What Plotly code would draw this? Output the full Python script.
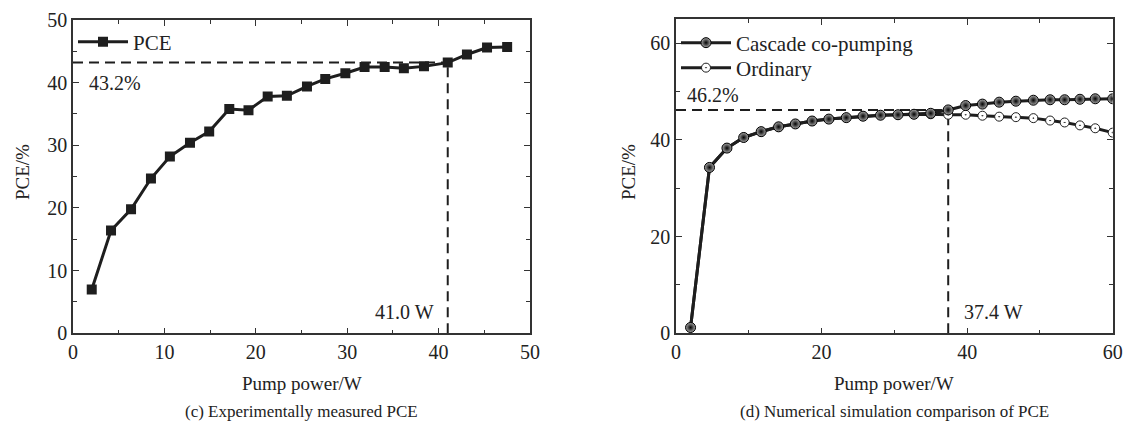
import plotly.graph_objects as go

# ---- Data: (c) experimentally measured PCE ----
exp_power = [2.05, 4.16, 6.35, 8.53, 10.6, 12.8, 14.9, 17.1, 19.2, 21.3, 23.4,
             25.6, 27.6, 29.8, 31.9, 34.1, 36.2, 38.4, 41.0, 43.1, 45.3, 47.5]
exp_pce = [7.0, 16.4, 19.8, 24.7, 28.2, 30.4, 32.2, 35.8, 35.6, 37.8, 37.9,
           39.4, 40.6, 41.5, 42.5, 42.5, 42.3, 42.6, 43.2, 44.5, 45.6, 45.7]
exp_mark_power = 41.0
exp_mark_pce = 43.2

# ---- Data: (d) numerical simulation ----
sim_power = [2.0, 4.6, 7.0, 9.3, 11.7, 14.1, 16.4, 18.7, 21.0, 23.4, 25.7, 28.1,
             30.5, 32.7, 35.0, 37.4, 39.8, 42.1, 44.4, 46.7, 49.1, 51.4, 53.4,
             55.5, 57.6, 60.0]
cascade_pce = [1.2, 34.3, 38.3, 40.5, 41.7, 42.7, 43.3, 43.9, 44.3, 44.6, 44.9, 45.1,
               45.2, 45.3, 45.5, 46.2, 47.1, 47.4, 47.8, 48.0, 48.2, 48.3, 48.3,
               48.4, 48.5, 48.5]
ordinary_pce = [1.2, 34.3, 38.3, 40.5, 41.7, 42.7, 43.3, 43.9, 44.3, 44.6, 44.9, 45.1,
                45.2, 45.3, 45.3, 45.2, 45.2, 45.0, 44.8, 44.7, 44.5, 44.0, 43.6,
                43.0, 42.4, 41.5]
sim_mark_power = 37.4
sim_mark_pce = 46.2

FONT = "Liberation Serif, Times New Roman, Times, serif"
INK = "#1e1e1e"
TXT = "#222"
PAGE_OFF = 8            # default body margin of the html page
W, H = 1146 - 2 * PAGE_OFF, 429 - 2 * PAGE_OFF

def px(xp):
    return (xp - PAGE_OFF) / W

def py(yp):
    return (H - (yp - PAGE_OFF)) / H

fig = go.Figure()

dash_line = dict(color=INK, width=2, dash="10px,6px")

# left panel
fig.add_trace(go.Scatter(x=[0, exp_mark_power], y=[exp_mark_pce, exp_mark_pce], mode="lines",
                         line=dash_line, showlegend=False, xaxis="x", yaxis="y"))
fig.add_trace(go.Scatter(x=[exp_mark_power, exp_mark_power], y=[0, exp_mark_pce], mode="lines",
                         line=dash_line, showlegend=False, xaxis="x", yaxis="y"))
fig.add_trace(go.Scatter(x=exp_power, y=exp_pce, mode="lines+markers", name="PCE",
                         line=dict(color=INK, width=3),
                         marker=dict(symbol="square", size=10, color=INK),
                         xaxis="x", yaxis="y", legend="legend"))

# right panel
fig.add_trace(go.Scatter(x=[0, sim_mark_power], y=[sim_mark_pce, sim_mark_pce], mode="lines",
                         line=dash_line, showlegend=False, xaxis="x2", yaxis="y2"))
fig.add_trace(go.Scatter(x=[sim_mark_power, sim_mark_power], y=[0, sim_mark_pce], mode="lines",
                         line=dash_line, showlegend=False, xaxis="x2", yaxis="y2"))
fig.add_trace(go.Scatter(x=sim_power, y=ordinary_pce, mode="lines+markers", name="Ordinary",
                         line=dict(color=INK, width=3),
                         marker=dict(symbol="circle-dot", size=9, color="white",
                                     line=dict(color=INK, width=1)),
                         xaxis="x2", yaxis="y2", legend="legend3"))
fig.add_trace(go.Scatter(x=sim_power, y=cascade_pce, mode="lines+markers", name="Cascade co-pumping",
                         line=dict(color=INK, width=3),
                         marker=dict(symbol="circle", size=10, color="#a8a8a8",
                                     gradient=dict(type="radial", color="#000000"),
                                     line=dict(color="#000", width=1)),
                         xaxis="x2", yaxis="y2", legend="legend2"))

axis_common = dict(showline=True, linecolor="#333", linewidth=1.5, mirror="ticks",
                   ticks="inside", ticklen=6, tickwidth=1.2, tickcolor="#333",
                   showgrid=False, zeroline=False, automargin=False,
                   tickfont=dict(family=FONT, size=20, color=TXT))

def minor(d):
    return dict(dtick=d, ticks="inside", ticklen=4, tickwidth=1.2, tickcolor="#333")

leg_common = dict(xanchor="left", yanchor="middle", bgcolor="rgba(0,0,0,0)",
                  itemwidth=50, borderwidth=0,
                  font=dict(family=FONT, size=21, color=TXT))

fig.update_layout(
    width=W, height=H,
    margin=dict(l=0, r=0, t=0, b=0),
    paper_bgcolor="white", plot_bgcolor="white",
    font=dict(family=FONT, color=TXT),
    xaxis=dict(domain=[px(73), px(530)], range=[0, 50], dtick=10, anchor="y",
               minor=minor(5), **axis_common),
    yaxis=dict(domain=[py(333.3), py(20)], range=[0, 50], dtick=10, anchor="x",
               minor=minor(5), **axis_common),
    xaxis2=dict(domain=[px(676), px(1112.7)], range=[0, 60], dtick=20, anchor="y2",
                minor=minor(10), **axis_common),
    yaxis2=dict(domain=[py(333.3), py(19)], range=[0, 65], tickvals=[0, 20, 40, 60], anchor="x2",
                minor=minor(10), **axis_common),
    legend=dict(x=px(73), y=py(42), **leg_common),
    legend2=dict(x=px(676), y=py(43), **leg_common),
    legend3=dict(x=px(676), y=py(68), **leg_common),
)

ann = []
def label(text, x, y, xref, yref, xanchor, size=20):
    ann.append(dict(text=text, x=x, y=y, xref=xref, yref=yref, xanchor=xanchor, yanchor="middle",
                    showarrow=False, font=dict(family=FONT, size=size, color=TXT)))

label("43.2%", 1.5, 39.9, "x", "y", "left")
label("41.0 W", 39.7, 3.4, "x", "y", "right")
label("46.2%", 1.2, 49.3, "x2", "y2", "left")
label("37.4 W", 39.3, 4.5, "x2", "y2", "left")

for xc in (px(301.5), px(894.3)):
    ann.append(dict(text="Pump power/W", x=xc, y=py(383), xref="paper", yref="paper",
                    xanchor="center", yanchor="middle", showarrow=False,
                    font=dict(family=FONT, size=19, color=TXT)))
for xc in (px(22), px(628)):
    ann.append(dict(text="PCE/%", x=xc, y=py(172), xref="paper", yref="paper", textangle=-90,
                    xanchor="center", yanchor="middle", showarrow=False,
                    font=dict(family=FONT, size=19, color=TXT)))
ann.append(dict(text="(c) Experimentally measured PCE", x=px(301.5), y=py(411),
                xref="paper", yref="paper", xanchor="center", yanchor="middle", showarrow=False,
                font=dict(family=FONT, size=17, color=TXT)))
ann.append(dict(text="(d) Numerical simulation comparison of PCE", x=px(894.3), y=py(411),
                xref="paper", yref="paper", xanchor="center", yanchor="middle", showarrow=False,
                font=dict(family=FONT, size=17, color=TXT)))
fig.update_layout(annotations=ann)

fig.write_html("out.html")
